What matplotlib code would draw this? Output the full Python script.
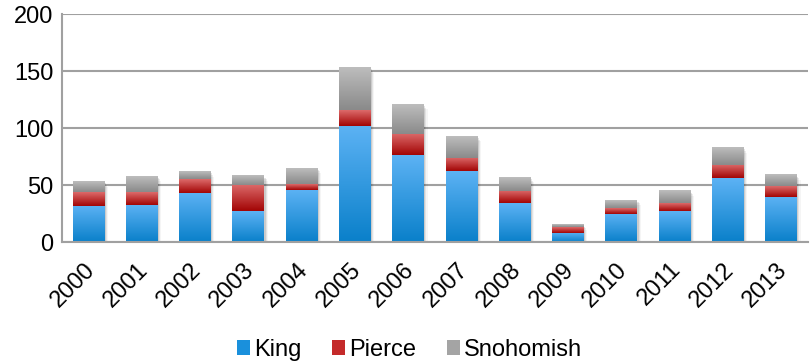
import numpy as np
import matplotlib
matplotlib.use("Agg")
import matplotlib.pyplot as plt
from matplotlib.colors import LinearSegmentedColormap
from matplotlib.patches import Patch, Rectangle
from matplotlib.transforms import ScaledTranslation

years = ["2000", "2001", "2002", "2003", "2004", "2005", "2006",
         "2007", "2008", "2009", "2010", "2011", "2012", "2013"]
king = [32, 33, 43, 27, 46, 102, 76, 62, 34, 8, 25, 27, 56, 40]
pierce = [12, 11, 12, 23, 5, 14, 19, 12, 11, 5, 5, 7, 12, 9]
snohomish = [9, 14, 7, 8, 14, 37, 26, 19, 12, 2, 7, 11, 15, 10]

series = ["King", "Pierce", "Snohomish"]
# (top colour, bottom colour) of each gradient
grads = [("#5cb2f4", "#0a80ca"), ("#dc6a6a", "#a30505"), ("#bdbdbd", "#8a8a8a")]
legend_cols = ["#1a90dc", "#c42a2a", "#a4a4a4"]

plt.rcParams['font.family'] = ['Liberation Sans', 'DejaVu Sans']

fig = plt.figure(figsize=(8.1, 3.63), dpi=100)
ax = fig.add_axes([0.0765, 0.333, 0.921, 0.628])

x = np.arange(len(years))
w = 0.6
grad = np.linspace(0, 1, 64).reshape(-1, 1)
bottom = np.zeros(len(years))
for vals, (top_c, bot_c) in zip([king, pierce, snohomish], grads):
    cmap = LinearSegmentedColormap.from_list("g", [bot_c, top_c])
    for xi, b, v in zip(x, bottom, vals):
        ax.imshow(grad, extent=[xi - w / 2, xi + w / 2, b, b + v], origin='lower',
                  aspect='auto', cmap=cmap, zorder=3, interpolation='bilinear')
    bottom += np.array(vals)

# soft shadow behind each stack
for xi, tot in zip(x, bottom):
    for k, a in enumerate([0.10, 0.07, 0.04]):
        ax.add_patch(Rectangle((xi - w / 2 + 0.02 * (k + 1), -1.5 * (k + 1)), w, tot,
                               facecolor='black', alpha=a, edgecolor='none', zorder=2))

ax.set_xlim(-0.5, len(years) - 0.5)
ax.set_ylim(0, 200)
ax.set_yticks([0, 50, 100, 150, 200])
ax.yaxis.grid(True, color='#a0a0a0', linewidth=1.5)
ax.set_axisbelow(True)
for s in ['top', 'right']:
    ax.spines[s].set_visible(False)
for s in ['left', 'bottom']:
    ax.spines[s].set_color('#a0a0a0')
    ax.spines[s].set_linewidth(1.5)
ax.spines['bottom'].set_zorder(4)
ax.tick_params(axis='both', length=0, labelsize=17, pad=6)
ax.set_xticks(x)
ax.set_xticklabels(years, rotation=45, ha='right', va='top', rotation_mode='anchor')
shift = ScaledTranslation(-5 / 100, -8 / 100, fig.dpi_scale_trans)
for lab in ax.get_xticklabels():
    lab.set_transform(lab.get_transform() + shift)

handles = [Patch(facecolor=c, label=n) for n, c in zip(series, legend_cols)]
fig.legend(handles=handles, loc='center', bbox_to_anchor=(0.506, 0.036), ncol=3,
           frameon=False, fontsize=17, handlelength=0.55, handleheight=0.55,
           handletextpad=0.17, columnspacing=1.3, borderpad=0)

fig.savefig("out.png", dpi=100)
